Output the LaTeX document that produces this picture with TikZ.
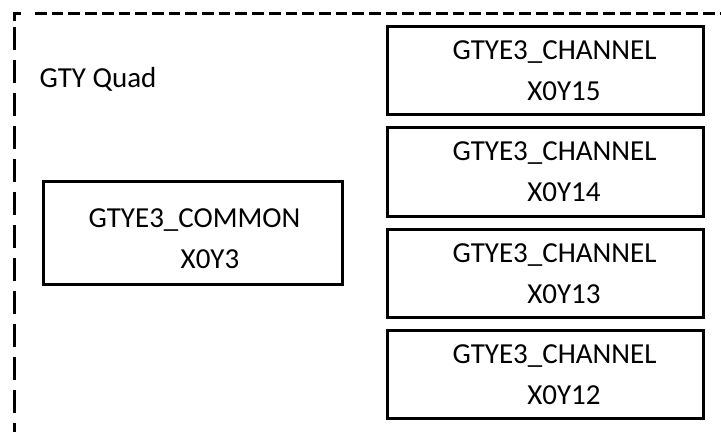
\documentclass[tikz,border=0pt]{standalone}
\usepackage{fontspec}
\setmainfont{Carlito}
\begin{document}
\begin{tikzpicture}[x=1bp,y=-1bp,
  box/.style={draw=black,line width=3bp,inner sep=0pt,outer sep=0pt},
  lbl/.style={inner sep=0pt,anchor=base,font=\fontsize{29bp}{34bp}\selectfont},
  border/.style={draw=black,line width=3bp},
  hdash/.style={border,dash pattern=on 11.7bp off 5bp},
  vdash/.style={border,dash pattern=on 22.5bp off 10.5bp}]
\useasboundingbox (0,0) rectangle (721,431);
\coordinate (c0) at (14,13);
\coordinate (c1) at (14,20.5);
\coordinate (c2) at (21,13);
\coordinate (t0) at (35,13);
\coordinate (t1) at (740,13);
\coordinate (l0) at (14,27);
\coordinate (l1) at (14,440);
\coordinate (b0) at (14,434);
\coordinate (b1) at (740,434);
\draw[border] (c1) -- (c0) -- (c2);
\draw[hdash] (t0) -- (t1);
\draw[vdash] (l0) -- (l1);
\draw[hdash] (b0) -- (b1);
\node[lbl] (quad) at (98,87) {GTY Quad};
% common block
\draw[box] (43,181) rectangle (342,284);
\node[lbl] (cmn1) at (194.5,227) {GTYE3\_COMMON};
\node[lbl] (cmn2) at (210,268) {X0Y3};
% channel blocks
\foreach \t/\n in {26/15,127.5/14,229/13,330/12}{
  \draw[box] (387,\t) rectangle (703,\t+88.5);
  \node[lbl] (ch\n a) at (554.5,\t+33) {GTYE3\_CHANNEL};
  \node[lbl] (ch\n b) at (564,\t+74) {X0Y\n};
}
\end{tikzpicture}
\end{document}
